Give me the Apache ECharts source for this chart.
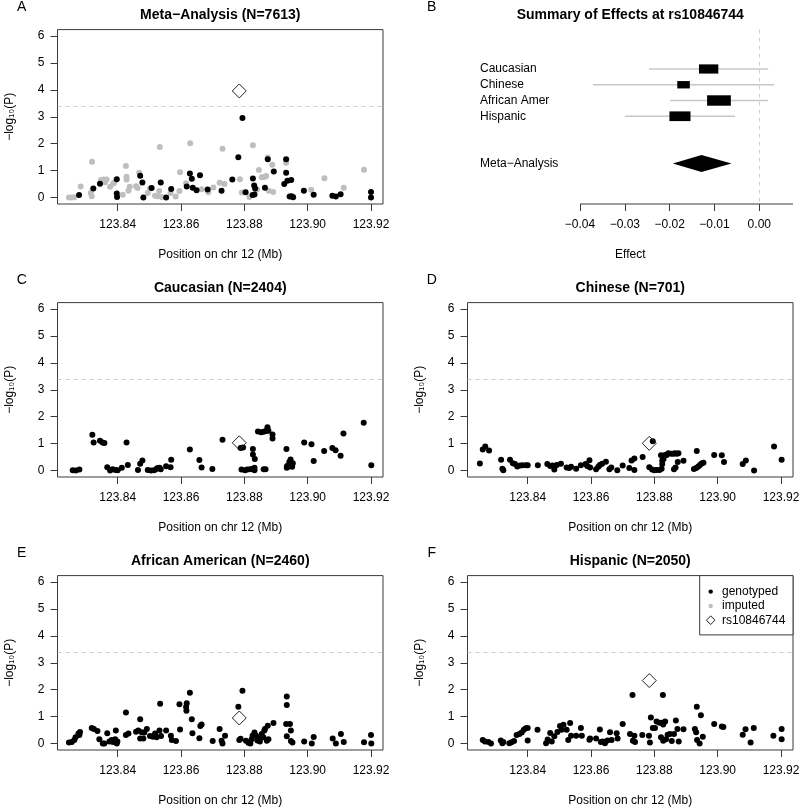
<!DOCTYPE html>
<html><head><meta charset="utf-8">
<script src="https://cdn.jsdelivr.net/npm/echarts@6/dist/echarts.min.js"></script>
<style>html,body{margin:0;padding:0;background:#fff}#c{width:800px;height:809px}</style>
</head><body><div id="c"></div>
<script>
// ---------------- DATA ----------------
const snpName = 'rs10846744';
const snpPosition = 123.8784;
const xTicks = [123.84, 123.86, 123.88, 123.90, 123.92];
const yTicks = [0, 1, 2, 3, 4, 5, 6];
const threshold = 3.4;

const metaGenotyped = [
[123.8278,0.09],[123.8323,0.34],[123.8344,0.51],[123.8397,0.68],[123.8397,0.15],[123.8398,0.02],
[123.8471,0.81],[123.8478,0.56],[123.8481,0.00],[123.8507,0.35],[123.8536,0.56],[123.8553,0.00],
[123.8569,0.32],[123.8618,0.41],[123.8628,0.89],[123.8634,0.70],[123.8637,0.36],[123.8649,0.27],
[123.8660,0.83],[123.8684,0.30],[123.8728,0.25],[123.8762,0.67],[123.8781,1.50],[123.8794,2.96],
[123.8804,0.20],[123.8827,0.71],[123.8831,0.45],[123.8834,0.34],[123.8832,0.11],[123.8826,0.09],
[123.8865,0.36],[123.8874,1.42],[123.8893,0.97],[123.8932,1.42],[123.8932,0.92],[123.8936,0.62],
[123.8926,0.50],[123.8948,0.65],[123.8943,0.04],[123.8949,0.05],[123.8954,0.01],[123.8988,0.25],
[123.9019,0.10],[123.9078,0.07],[123.9089,0.04],[123.9104,0.12],[123.9200,0.21],[123.9200,0.00]
];
const metaImputed = [
[123.8246,0.00],[123.8255,0.00],[123.8263,0.01],[123.8283,0.41],[123.8315,0.17],[123.8318,0.05],
[123.8319,1.33],[123.8347,0.65],[123.8355,0.67],[123.8365,0.67],[123.8360,0.57],[123.8376,0.40],
[123.8386,0.52],[123.8389,0.55],[123.8416,0.10],[123.8426,1.17],[123.8428,0.77],[123.8428,0.67],
[123.8434,0.25],[123.8438,0.40],[123.8458,0.42],[123.8463,0.35],[123.8468,0.92],[123.8495,0.17],
[123.8502,0.34],[123.8518,0.07],[123.8526,0.05],[123.8531,0.24],[123.8539,0.02],[123.8533,1.88],
[123.8567,0.17],[123.8583,0.04],[123.8595,0.24],[123.8597,0.94],[123.8616,0.53],[123.8629,2.02],
[123.8665,0.31],[123.8686,0.20],[123.8702,0.37],[123.8722,0.55],[123.8731,1.81],[123.8737,0.50],
[123.8786,0.68],[123.8792,0.19],[123.8816,0.02],[123.8827,1.94],[123.8840,0.30],[123.8846,1.02],
[123.8855,0.75],[123.8863,0.76],[123.8869,0.80],[123.8874,1.49],[123.8877,0.25],[123.8888,1.22],
[123.8891,0.21],[123.8932,1.29],[123.8954,0.03],[123.9011,0.29],[123.9053,0.72],[123.9114,0.36],
[123.9178,1.03]
];
const caucasian = [
[123.8258,0.01],[123.8268,0.00],[123.8279,0.04],[123.8320,1.33],[123.8324,1.04],[123.8344,1.11],
[123.8352,1.04],[123.8358,1.02],[123.8367,0.12],[123.8376,0.00],[123.8384,0.05],[123.8393,0.02],
[123.8400,0.01],[123.8413,0.10],[123.8428,1.04],[123.8432,0.21],[123.8464,0.02],[123.8471,0.25],
[123.8478,0.37],[123.8495,0.02],[123.8505,0.00],[123.8515,0.01],[123.8521,0.05],[123.8526,0.09],
[123.8532,0.10],[123.8536,0.05],[123.8553,0.16],[123.8567,0.12],[123.8569,0.40],[123.8628,0.78],
[123.8658,0.39],[123.8665,0.11],[123.8699,0.06],[123.8731,1.14],[123.8788,0.84],[123.8796,0.86],
[123.8791,0.04],[123.8802,0.01],[123.8809,0.04],[123.8818,0.05],[123.8825,0.06],[123.8832,0.01],
[123.8832,0.10],[123.8827,0.80],[123.8827,0.60],[123.8833,0.43],[123.8843,1.45],[123.8853,1.42],
[123.8861,1.44],[123.8868,1.47],[123.8873,1.61],[123.8876,1.48],[123.8861,0.05],[123.8867,0.05],
[123.8889,1.34],[123.8889,1.19],[123.8933,0.80],[123.8934,0.10],[123.8935,0.17],[123.8938,0.14],
[123.8942,0.32],[123.8946,0.41],[123.8951,0.14],[123.8953,0.27],[123.8989,1.04],[123.9012,0.98],
[123.9019,0.35],[123.9052,0.73],[123.9078,0.84],[123.9088,0.75],[123.9104,0.55],[123.9113,1.38],
[123.9177,1.78],[123.9201,0.20]
];
const chinese = [
[123.8249,0.26],[123.8258,0.78],[123.8266,0.89],[123.8278,0.74],[123.8316,0.40],[123.8320,0.07],
[123.8323,0.01],[123.8344,0.40],[123.8353,0.27],[123.8360,0.24],[123.8367,0.15],[123.8376,0.19],
[123.8384,0.20],[123.8395,0.20],[123.8400,0.20],[123.8432,0.20],[123.8462,0.24],[123.8471,0.17],
[123.8478,0.19],[123.8484,0.04],[123.8492,0.21],[123.8505,0.25],[123.8523,0.11],[123.8531,0.09],
[123.8537,0.14],[123.8553,0.07],[123.8568,0.20],[123.8583,0.24],[123.8588,0.17],[123.8595,0.38],
[123.8597,0.11],[123.8616,0.05],[123.8623,0.14],[123.8628,0.21],[123.8635,0.25],[123.8647,0.33],
[123.8658,0.05],[123.8664,0.11],[123.8683,0.01],[123.8700,0.19],[123.8721,0.09],[123.8728,0.37],
[123.8737,0.45],[123.8737,0.02],[123.8763,0.50],[123.8795,1.09],[123.8784,0.12],[123.8793,0.04],
[123.8800,0.01],[123.8807,0.02],[123.8816,0.02],[123.8823,0.07],[123.8821,0.57],[123.8825,0.24],
[123.8825,0.37],[123.8829,0.43],[123.8834,0.58],[123.8839,0.58],[123.8844,0.64],[123.8853,0.62],
[123.8860,0.62],[123.8865,0.64],[123.8871,0.62],[123.8874,0.32],[123.8876,0.64],[123.8862,0.05],
[123.8867,0.11],[123.8892,0.36],[123.8925,0.06],[123.8932,0.09],[123.8934,0.73],[123.8939,0.15],
[123.8944,0.21],[123.8949,0.26],[123.8955,0.29],[123.8989,0.58],[123.9013,0.57],[123.9020,0.32],
[123.9079,0.24],[123.9089,0.37],[123.9115,0.00],[123.9178,0.89],[123.9202,0.40]
];
const africanAmerican = [
[123.8246,0.04],[123.8255,0.06],[123.8263,0.13],[123.8267,0.23],[123.8276,0.37],[123.8281,0.43],
[123.8279,0.32],[123.8318,0.58],[123.8325,0.54],[123.8336,0.47],[123.8342,0.16],[123.8353,0.00],
[123.8358,0.00],[123.8367,0.38],[123.8374,0.08],[123.8381,0.13],[123.8385,0.06],[123.8392,0.16],
[123.8394,0.48],[123.8397,0.00],[123.8399,0.08],[123.8426,1.15],[123.8426,0.32],[123.8434,0.37],
[123.8458,0.44],[123.8465,0.48],[123.8471,0.90],[123.8471,0.19],[123.8481,0.19],[123.8476,0.42],
[123.8484,0.41],[123.8492,0.54],[123.8502,0.28],[123.8511,0.25],[123.8518,0.37],[123.8523,0.23],
[123.8532,0.48],[123.8537,0.28],[123.8534,1.48],[123.8553,0.48],[123.8568,0.29],[123.8571,0.13],
[123.8584,0.09],[123.8595,1.46],[123.8597,0.52],[123.8618,1.50],[123.8616,1.36],[123.8617,1.22],
[123.8628,1.89],[123.8634,0.90],[123.8636,0.38],[123.8658,0.20],[123.8661,0.65],[123.8665,0.71],
[123.8700,0.09],[123.8722,0.54],[123.8728,0.10],[123.8731,0.00],[123.8739,0.29],[123.8781,1.37],
[123.8794,1.96],[123.8784,0.13],[123.8788,0.18],[123.8805,0.10],[123.8813,0.03],[123.8819,0.00],
[123.8823,0.16],[123.8826,0.29],[123.8832,0.41],[123.8837,0.29],[123.8841,0.11],[123.8846,0.18],
[123.8849,0.08],[123.8855,0.35],[123.8860,0.23],[123.8863,0.48],[123.8865,0.54],[123.8871,0.10],
[123.8876,0.16],[123.8874,0.66],[123.8892,0.76],[123.8934,1.75],[123.8934,1.43],[123.8932,0.73],
[123.8944,0.73],[123.8934,0.27],[123.8947,0.48],[123.8952,0.04],[123.8947,0.09],[123.8989,0.08],
[123.9013,0.00],[123.9019,0.24],[123.9079,0.19],[123.9089,0.00],[123.9105,0.35],[123.9114,0.06],
[123.9178,0.05],[123.9200,0.32],[123.9201,0.00]
];
const hispanic = [
[123.8258,0.13],[123.8265,0.08],[123.8276,0.06],[123.8284,0.00],[123.8315,0.11],[123.8320,0.01],
[123.8323,0.06],[123.8342,0.01],[123.8349,0.05],[123.8357,0.09],[123.8365,0.32],[123.8374,0.35],
[123.8381,0.41],[123.8388,0.51],[123.8394,0.57],[123.8400,0.58],[123.8400,0.11],[123.8431,0.51],
[123.8458,0.01],[123.8463,0.15],[123.8471,0.39],[123.8476,0.08],[123.8484,0.27],[123.8494,0.43],
[123.8502,0.65],[123.8507,0.51],[123.8513,0.70],[123.8523,0.51],[123.8528,0.13],[123.8534,0.76],
[123.8537,0.29],[123.8553,0.29],[123.8568,0.58],[123.8571,0.29],[123.8595,0.14],[123.8597,0.19],
[123.8616,0.19],[123.8628,0.52],[123.8631,0.06],[123.8637,0.08],[123.8644,0.01],[123.8652,0.11],
[123.8660,0.42],[123.8665,0.13],[123.8681,0.38],[123.8684,0.19],[123.8700,0.73],[123.8723,0.35],
[123.8732,0.10],[123.8739,0.06],[123.8737,0.29],[123.8731,1.80],[123.8762,0.32],[123.8783,0.29],
[123.8786,0.04],[123.8789,0.97],[123.8795,0.58],[123.8802,0.58],[123.8807,0.82],[123.8816,0.77],
[123.8823,0.77],[123.8828,0.71],[123.8834,0.82],[123.8827,1.80],[123.8821,0.23],[123.8828,0.10],
[123.8837,0.16],[123.8842,0.33],[123.8849,0.35],[123.8855,0.09],[123.8862,0.35],[123.8868,0.86],
[123.8873,0.54],[123.8877,0.08],[123.8892,0.53],[123.8928,0.54],[123.8932,0.42],[123.8934,1.37],
[123.8935,0.13],[123.8943,0.00],[123.8947,1.05],[123.8953,0.25],[123.8989,0.73],[123.9013,0.63],
[123.9018,0.61],[123.9079,0.33],[123.9088,0.53],[123.9104,0.04],[123.9114,0.58],[123.9176,0.29],
[123.9202,0.54],[123.9202,0.16]
];
// -log10(P) of rs10846744 in each analysis
const snpMeta = 3.96, snpCaucasian = 1.03, snpChinese = 1.01, snpAfricanAmerican = 0.95, snpHispanic = 2.34;

// forest plot (panel B)
const studyNames = ['Caucasian', 'Chinese', 'African Amer', 'Hispanic'];
const studyEffect = [-0.0113, -0.0169, -0.0090, -0.0177];
const studyLower = [-0.0246, -0.0371, -0.0199, -0.0300];
const studyUpper = [0.0020, 0.0033, 0.0019, -0.0054];
const studyWeightWidth = [0.0043, 0.0028, 0.0053, 0.0047]; // box width (effect units) ~ study weight
const metaName = 'Meta−Analysis';
const metaEffect = -0.0129, metaLower = -0.0193, metaUpper = -0.0062;
const effectTicks = [-0.04, -0.03, -0.02, -0.01, 0.00];

// ---------------- LAYOUT / STYLE ----------------
const FONT = "'Liberation Sans', Arial, Helvetica, sans-serif";
const colLeft = [57.5, 467.5];
const rowTop = [29.6, 302.6, 575.6];
const GW = 325.5, GH = 174.4;
const X_MIN = 123.820987, X_MAX = 123.92379;
const Y_MIN = -0.24, Y_MAX = 6.24;
const FX_MIN = -0.06511, FX_MAX = 0.00752;
const FY_MIN = -1.5, FY_MAX = 9.57;
const DOT = 6;

const panels = [
  {label: 'A', title: 'Meta−Analysis (N=7613)', col: 0, row: 0, geno: metaGenotyped, imp: metaImputed, snp: snpMeta},
  {label: 'C', title: 'Caucasian (N=2404)', col: 0, row: 1, geno: caucasian, imp: [], snp: snpCaucasian},
  {label: 'D', title: 'Chinese (N=701)', col: 1, row: 1, geno: chinese, imp: [], snp: snpChinese},
  {label: 'E', title: 'African American (N=2460)', col: 0, row: 2, geno: africanAmerican, imp: [], snp: snpAfricanAmerican},
  {label: 'F', title: 'Hispanic (N=2050)', col: 1, row: 2, geno: hispanic, imp: [], snp: snpHispanic}
];

const txt = (size, weight) => ({fontFamily: FONT, fontSize: size, fontWeight: weight || 'normal', color: '#000'});

const grid = [], xAxis = [], yAxis = [], series = [], title = [];

function addTitles(label, ttl, col, row) {
  const cx = colLeft[col] + GW / 2;
  title.push({text: ttl, left: cx, top: rowTop[row] - 14.6, textAlign: 'center', textVerticalAlign: 'middle', padding: 0, textStyle: txt(14, 'bold')});
  title.push({text: label, left: colLeft[col] - 35.8, top: rowTop[row] - 22.3, textAlign: 'center', textVerticalAlign: 'middle', padding: 0, textStyle: txt(14)});
}

panels.forEach((p, i) => {
  grid.push({left: colLeft[p.col], top: rowTop[p.row], width: GW, height: GH, show: true, borderColor: '#3a3a3a', borderWidth: 1, backgroundColor: 'transparent', containLabel: false, outerBoundsMode: 'none'});
  xAxis.push({
    gridIndex: i, type: 'value', min: X_MIN, max: X_MAX,
    axisLine: {show: false, onZero: false}, splitLine: {show: false},
    axisTick: {show: true, length: 7, customValues: xTicks, lineStyle: {color: '#3a3a3a'}},
    axisLabel: {customValues: xTicks, margin: 15, formatter: v => v.toFixed(2), ...txt(12)},
    name: 'Position on chr 12 (Mb)', nameLocation: 'middle', nameGap: 45, nameTextStyle: txt(12)
  });
  yAxis.push({
    gridIndex: i, type: 'value', min: Y_MIN, max: Y_MAX,
    axisLine: {show: false, onZero: false}, splitLine: {show: false},
    axisTick: {show: true, length: 7, customValues: yTicks, lineStyle: {color: '#3a3a3a'}},
    axisLabel: {customValues: yTicks, margin: 13, formatter: v => String(v), ...txt(12)},
    name: '−log₁₀(P)', nameLocation: 'middle', nameRotate: 90, nameGap: 42, nameTextStyle: txt(12)
  });
  series.push({type: 'scatter', xAxisIndex: i, yAxisIndex: i, data: p.imp, symbol: 'circle', symbolSize: DOT,
    itemStyle: {color: '#bebebe', opacity: 1}, silent: true, z: 2, animation: false});
  series.push({type: 'scatter', xAxisIndex: i, yAxisIndex: i, data: p.geno, symbol: 'circle', symbolSize: DOT,
    itemStyle: {color: '#000', opacity: 1}, silent: true, z: 3, animation: false,
    markLine: {silent: true, symbol: ['none', 'none'], label: {show: false}, animation: false,
      lineStyle: {color: '#cdcdcd', type: [4, 4], width: 1}, emphasis: {disabled: true},
      data: [{yAxis: threshold}]}});
  series.push({type: 'scatter', xAxisIndex: i, yAxisIndex: i, data: [[snpPosition, p.snp]], symbol: 'diamond', symbolSize: 14,
    itemStyle: {color: 'rgba(0,0,0,0)', borderColor: '#222', borderWidth: 1, opacity: 1}, silent: true, z: 4, animation: false});
  addTitles(p.label, p.title, p.col, p.row);
});

// ---- Forest plot (B) ----
const fi = panels.length;
grid.push({left: colLeft[1], top: rowTop[0], width: GW, height: GH, show: false, containLabel: false, outerBoundsMode: 'none'});
const rowOf = i => i + 1;
const metaRow = studyNames.length + 3;
const rowLabel = {};
studyNames.forEach((n, i) => { rowLabel[rowOf(i)] = n; });
rowLabel[metaRow] = metaName;
xAxis.push({
  gridIndex: fi, type: 'value', min: FX_MIN, max: FX_MAX,
  axisLine: {show: false, onZero: false}, splitLine: {show: false},
  axisTick: {show: true, length: 7, customValues: effectTicks, lineStyle: {color: '#3a3a3a'}},
  axisLabel: {customValues: effectTicks, margin: 15, formatter: v => (v < 0 ? '−' : '') + Math.abs(v).toFixed(2), ...txt(12)},
  name: 'Effect', nameLocation: 'middle', nameGap: 45, nameTextStyle: txt(12)
});
yAxis.push({
  gridIndex: fi, type: 'value', min: FY_MIN, max: FY_MAX, inverse: true,
  axisLine: {show: false, onZero: false}, splitLine: {show: false}, axisTick: {show: false},
  axisLabel: {customValues: Object.keys(rowLabel).map(Number), align: 'left', margin: -12.5,
    formatter: v => rowLabel[v] || '', ...txt(12)}
});
addTitles('B', 'Summary of Effects at ' + snpName, 1, 0);

series.push({
  type: 'custom', xAxisIndex: fi, yAxisIndex: fi, silent: true, animation: false, z: 3,
  data: studyNames.map((n, i) => [rowOf(i), studyEffect[i], studyLower[i], studyUpper[i], studyWeightWidth[i]]),
  encode: {x: [1, 2, 3], y: 0},
  renderItem: (params, api) => {
    const y = api.value(0);
    const pLo = api.coord([api.value(2), y]), pHi = api.coord([api.value(3), y]), pC = api.coord([api.value(1), y]);
    const bw = api.size([api.value(4), 0])[0];
    const bh = 4 + 0.27 * bw;
    return {type: 'group', children: [
      {type: 'line', shape: {x1: pLo[0], y1: pLo[1], x2: pHi[0], y2: pHi[1]}, style: {stroke: '#c8c8c8', lineWidth: 1.6}},
      {type: 'rect', shape: {x: pC[0] - bw / 2, y: pC[1] - bh / 2, width: bw, height: bh}, style: {fill: '#000'}}
    ]};
  }
});
series.push({
  type: 'custom', xAxisIndex: fi, yAxisIndex: fi, silent: true, animation: false, z: 3,
  data: [[metaRow, metaEffect, metaLower, metaUpper]],
  encode: {x: [1, 2, 3], y: 0},
  renderItem: (params, api) => {
    const y = api.value(0);
    const pL = api.coord([api.value(2), y]), pR = api.coord([api.value(3), y]), pC = api.coord([api.value(1), y]);
    const h = 8.6;
    return {type: 'polygon', shape: {points: [[pL[0], pL[1]], [pC[0], pC[1] - h], [pR[0], pR[1]], [pC[0], pC[1] + h]]}, style: {fill: '#000'}};
  }
});
// R-style axis line (from first tick to plot edge) + zero reference line
series.push({
  type: 'line', xAxisIndex: fi, yAxisIndex: fi, silent: true, animation: false, clip: false, symbol: 'none',
  data: [[effectTicks[0], FY_MAX], [FX_MAX, FY_MAX]], lineStyle: {color: '#3a3a3a', width: 1},
  markLine: {silent: true, symbol: ['none', 'none'], label: {show: false}, animation: false,
    lineStyle: {color: '#cdcdcd', type: [4, 4], width: 1}, data: [{xAxis: 0}]}
});

// ---- Legend in panel F ----
const fx = colLeft[1] + GW, fy = rowTop[2];
const lw = 93.3, lh = 59.3;
const legendItems = [
  {name: 'genotyped', kind: 'geno'}, {name: 'imputed', kind: 'imp'}, {name: snpName, kind: 'snp'}
];
const graphic = [{type: 'rect', shape: {x: fx - lw, y: fy, width: lw, height: lh}, style: {fill: '#fff', stroke: '#3a3a3a', lineWidth: 1}, z: 10}];
legendItems.forEach((it, k) => {
  const cy = fy + 16 + k * 14.3, sx = fx - lw + 11;
  if (it.kind === 'snp') {
    graphic.push({type: 'polygon', shape: {points: [[sx, cy - 4.3], [sx + 4.3, cy], [sx, cy + 4.3], [sx - 4.3, cy]]}, style: {fill: 'none', stroke: '#222', lineWidth: 1}, z: 11});
  } else {
    graphic.push({type: 'circle', shape: {cx: sx, cy: cy, r: 2.2}, style: {fill: it.kind === 'geno' ? '#000' : '#bebebe'}, z: 11});
  }
  graphic.push({type: 'text', x: sx + 11.3, y: cy, style: {text: it.name, font: '12px ' + FONT, fill: '#000', textVerticalAlign: 'middle', verticalAlign: 'middle'}, z: 11});
});

const chart = echarts.init(document.getElementById('c'), null, {renderer: 'canvas'});
chart.setOption({animation: false, backgroundColor: '#fff', title, grid, xAxis, yAxis, series, graphic});
</script>
</body></html>
